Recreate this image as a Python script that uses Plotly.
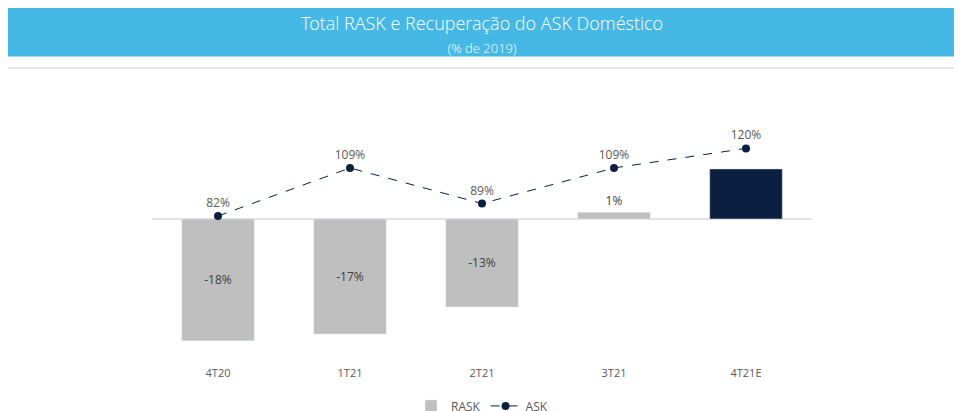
import plotly.graph_objects as go

periodos = ["4T20", "1T21", "2T21", "3T21", "4T21E"]
rask = [-18, -17, -13, 1, 7.4]
rask_txt = ["-18%", "-17%", "-13%", "1%", ""]
ask = [82, 109, 89, 109, 120]

cores = ["#BFBFBF", "#BFBFBF", "#BFBFBF", "#BFBFBF", "#0B1F40"]
pos = ["inside", "inside", "inside", "outside", "none"]

fig = go.Figure()
fig.add_trace(go.Bar(
    x=periodos, y=rask, name="RASK", marker_color=cores, width=0.55,
    text=rask_txt, textposition=pos, insidetextanchor="middle",
    textfont=dict(color="#404040", size=12), cliponaxis=False,
))
fig.add_trace(go.Scatter(
    x=periodos, y=ask, name="ASK", yaxis="y2", mode="lines+markers+text",
    line=dict(color="#0B1F40", width=1, dash="dash"),
    marker=dict(color="#0B1F40", size=8),
    text=[f"{v}%" for v in ask], textposition="top center",
    textfont=dict(color="#595959", size=12), cliponaxis=False,
))

fig.update_layout(
    width=962, height=411, plot_bgcolor="white", paper_bgcolor="white",
    margin=dict(l=144, r=158, t=100, b=66, autoexpand=False),
    font=dict(family="Open Sans", color="#595959", size=11),
    xaxis=dict(showgrid=False, showline=False, ticks="", tickfont=dict(size=11),
               automargin=False, ticklabelstandoff=12),
    yaxis=dict(range=[-19.8, 16.4], visible=False, zeroline=True,
               zerolinecolor="#D9D9D9", zerolinewidth=1.5),
    yaxis2=dict(range=[5.0, 142.7], overlaying="y", visible=False),
    legend=dict(orientation="h", x=0.5, xanchor="center", y=-0.216, yanchor="middle",
                font=dict(size=12, color="#595959")),
    bargap=0.45,
    shapes=[
        dict(type="rect", xref="paper", yref="paper", x0=-0.3, x1=1.3,
             y0=1.21, y1=1.42, fillcolor="#45B8E6", line_width=0, layer="below"),
        dict(type="line", xref="paper", yref="paper", x0=-0.3, x1=1.3,
             y0=1.163, y1=1.163, line=dict(color="#E6E6E6", width=2)),
    ],
    annotations=[
        dict(text="Total RASK e Recuperação do ASK Doméstico<br>"
                  "<span style='font-size:13px'>(% de 2019)</span>",
             xref="paper", yref="paper", x=0.5, y=1.405, yanchor="top",
             showarrow=False, font=dict(color="white", size=18,
                                        family="Open Sans Light, Open Sans")),
    ],
)
fig.add_shape(type="line", xref="paper", yref="y", x0=0, x1=1, y0=0, y1=0,
              line=dict(color="#D9D9D9", width=1.5), layer="below")

fig.write_html("out.html")
